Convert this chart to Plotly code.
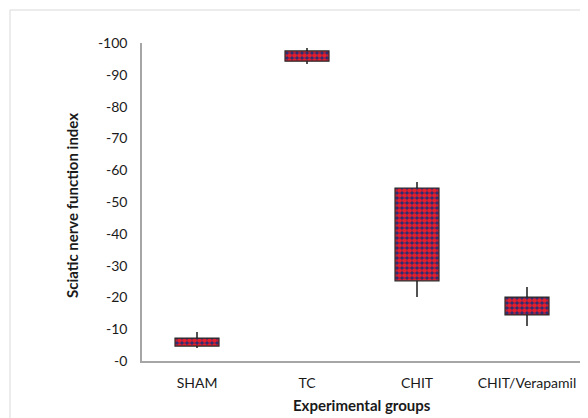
import plotly.graph_objects as go

groups = ["SHAM", "TC", "CHIT", "CHIT/Verapamil"]
box_low = [-4.7, -94.3, -25.2, -14.5]
box_high = [-7.2, -97.5, -54.4, -20.1]
whisk_low = [-4.1, -93.4, -20.1, -11.0]
whisk_high = [-9.1, -98.4, -56.3, -23.3]
tick_vals = [0, -10, -20, -30, -40, -50, -60, -70, -80, -90, -100]
tick_text = ["-0", "-10", "-20", "-30", "-40", "-50", "-60", "-70", "-80", "-90", "-100"]

FONT = "Lato, Open Sans, sans-serif"
# page body has an 8px offset; figure is sized to fill the rest of the window
OFF = 8
W, H = 588 - OFF, 418 - OFF
L, R, T, B = 142 - OFF, 6, 43 - OFF, 57
PH = H - T - B
PW = W - L - R

fig = go.Figure()

# whiskers: from extreme to box edge (outside the box)
wx, wy = [], []
for g, bl, bh, lo, hi in zip(groups, box_low, box_high, whisk_low, whisk_high):
    wx += [g, g, None, g, g, None]
    wy += [lo, bl, None, bh, hi, None]
fig.add_trace(go.Scatter(x=wx, y=wy, mode="lines",
                         line=dict(color="#1a1a1a", width=1.5),
                         showlegend=False, hoverinfo="skip"))

fig.add_trace(go.Bar(
    x=groups,
    base=box_low,
    y=[h - l for h, l in zip(box_high, box_low)],
    width=0.4,
    marker=dict(
        color="#1c2f7a",
        line=dict(color="#2a2a2a", width=1.2),
        pattern=dict(shape=".", fgcolor="#e41e2b", bgcolor="#1c2f7a",
                     size=5, solidity=0.7, fillmode="replace"),
    ),
    showlegend=False,
))

fig.update_layout(
    width=W, height=H,
    margin=dict(l=L, r=R, t=T, b=B),
    paper_bgcolor="white", plot_bgcolor="white",
    font=dict(family=FONT, size=14, color="#1a1a1a"),
    xaxis=dict(showline=True, linecolor="#a6a6a6", linewidth=1.5,
               showgrid=False, ticks="", tickfont=dict(size=14),
               ticklabelstandoff=8),
    yaxis=dict(range=[0, -100], showline=True, linecolor="#a6a6a6", linewidth=1.5,
               showgrid=False, zeroline=False, ticks="",
               tickvals=tick_vals, ticktext=tick_text,
               tickfont=dict(size=14), ticklabelstandoff=10),
    shapes=[dict(type="rect", xref="paper", yref="paper",
                 x0=(10 - OFF - L) / PW, x1=1.2, y0=-1,
                 y1=(H - B - (10 - OFF)) / PH,
                 line=dict(color="#d9d9d9", width=1), layer="below")],
    annotations=[
        dict(text="<b>Sciatic nerve function index</b>", xref="paper", yref="paper",
             x=(72 - 142) / PW, y=(H - B - (206 - OFF)) / PH, textangle=-90, showarrow=False,
             font=dict(size=15), xanchor="center", yanchor="middle"),
        dict(text="<b>Experimental groups</b>", xref="paper", yref="paper",
             x=0.5, y=(361 - 405) / PH, showarrow=False,
             font=dict(size=15), xanchor="center", yanchor="middle"),
    ],
)

fig.write_html("out.html")
